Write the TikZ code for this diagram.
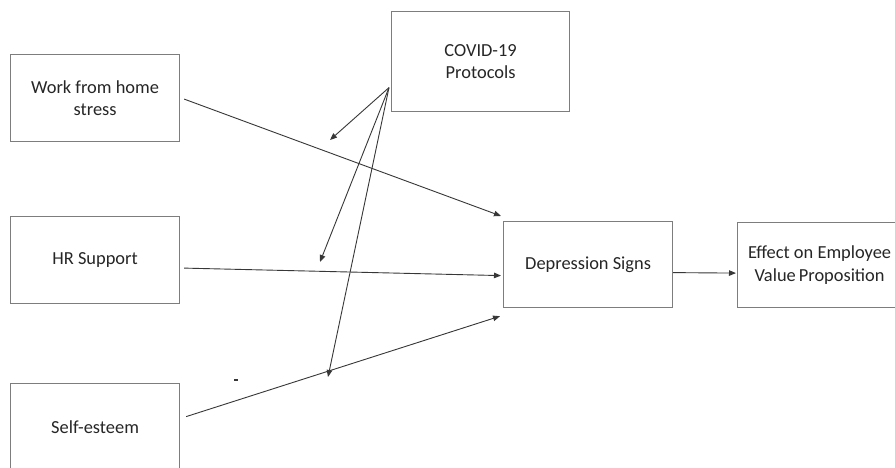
\documentclass[tikz,border=0pt]{standalone}
\usepackage{fontspec}
\setmainfont{Carlito}
\usetikzlibrary{arrows.meta,calc}
\definecolor{boxline}{RGB}{125,125,125}
\definecolor{arrline}{RGB}{55,55,55}
\definecolor{txt}{RGB}{38,38,38}
\begin{document}
\begin{tikzpicture}[x=1pt,y=-1pt,
  box/.style={draw=boxline,line width=1.2pt,rectangle,inner sep=0pt,align=center,
    text=txt,font=\fontsize{18.4}{22.5}\selectfont,anchor=north west},
  arr/.style={draw=arrline,line width=0.9pt,-{Triangle[length=7pt,width=5.5pt]}}]
\clip (0,0) rectangle (895,468);
\fill[white] (0,0) rectangle (895,468);
\node[box,minimum width=169pt,minimum height=87pt] (work) at (10,54) {Work from home\\stress};
\node[box,minimum width=169pt,minimum height=87pt] (hr) at (10,216) {HR Support};
\node[box,minimum width=169pt,minimum height=88pt] (self) at (10,383) {Self-esteem};
\node[box,minimum width=178pt,minimum height=100pt] (covid) at (391,11) {COVID-19\\Protocols};
\node[box,minimum width=169pt,minimum height=86pt] (dep) at (503,221) {Depression Signs};
\node[box,minimum width=164pt,minimum height=85pt] (eff) at (737,222) {Effect on Employee\\Value\,Proposition};
\draw[arr] ($(work.east)+(4,1)$) -- ($(dep.north west)+(-2,-5)$);
\draw[arr] ($(hr.east)+(4,8)$) -- ($(dep.west)+(-2,11)$);
\draw[arr] ($(self.east)+(6,-11)$) -- ($(dep.south west)+(-3,8)$);
\draw[arr] ($(dep.east)+(0,8)$) -- ($(eff.west)+(-1,8)$);
\coordinate (cv) at ($(covid.west)+(-2,26)$);
\coordinate (m1) at (330,140);
\coordinate (m2) at (320,262);
\coordinate (m3) at (328,377);
\draw[arr] (cv) -- (m1);
\draw[arr] (cv) -- (m2);
\draw[arr] (cv) -- (m3);
\draw[arrline,line width=1.5pt] (234,380) -- (238,380);
\end{tikzpicture}
\end{document}
